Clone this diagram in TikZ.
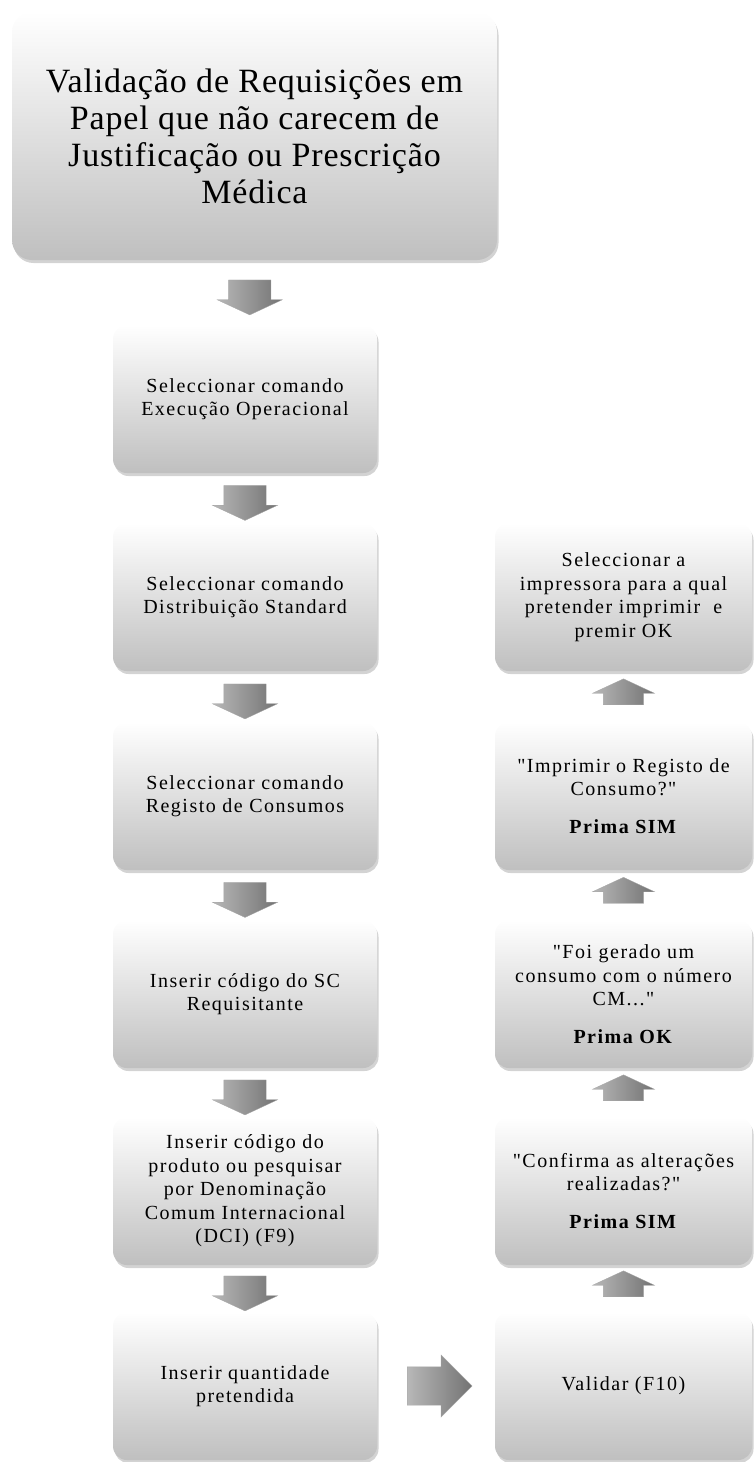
\documentclass[tikz,border=0pt]{standalone}
\usepackage{fontspec}
\setmainfont{Liberation Serif}
\newfontfamily\boxfont{Liberation Serif}[LetterSpace=7.5]
\newfontfamily\titlefont{Liberation Serif}[LetterSpace=2.5]
\usetikzlibrary{calc, shapes.arrows, shadows, positioning}

\tikzset{
  etapa/.style={rectangle, rounded corners=14pt, top color=white, middle color=black!4,
    bottom color=black!25,
    drop shadow={shadow xshift=1.5pt, shadow yshift=-3pt, opacity=0.35},
    align=center, inner sep=0pt, font=\boxfont\fontsize{20}{23.5}\selectfont},
  titulo/.style={etapa, rounded corners=20pt, minimum width=485pt, minimum height=248pt,
    font=\titlefont\fontsize{34}{37}\selectfont},
  esq/.style={etapa, minimum width=264pt, minimum height=148pt},
  dir/.style={etapa, minimum width=257pt, minimum height=148pt},
  seta/.style={single arrow, left color=black!28, right color=black!55,
    draw=black!35, line width=0.3pt},
  setabaixo/.style={seta, shape border rotate=270, inner xsep=21pt, inner ysep=0pt,
    minimum height=35pt, single arrow head extend=11.5pt, single arrow tip angle=130},
  setacima/.style={seta, shape border rotate=90, inner xsep=20pt, inner ysep=0pt,
    minimum height=26pt, single arrow head extend=11pt, single arrow tip angle=130},
  setadir/.style={seta, inner xsep=0pt, inner ysep=19pt, minimum height=65pt,
    single arrow head extend=12pt, single arrow tip angle=90},
}

\begin{document}
\begin{tikzpicture}[x=1pt, y=-1pt]
    \useasboundingbox (0,0) rectangle (754,1462);

    % Título
    \node[titulo] (tit) at (254.5,136) {Validação de Requisições em\\Papel que não carecem de\\Justificação ou Prescrição\\Médica};

    % Coluna da esquerda
    \node[esq] (c1) at (245,399) {Seleccionar comando\\Execução Operacional};
    \node[esq] (c2) at (245,597) {Seleccionar comando\\Distribuição Standard};
    \node[esq] (c3) at (245,796) {Seleccionar comando\\Registo de Consumos};
    \node[esq] (c4) at (245,994) {Inserir código do SC\\Requisitante};
    \node[esq] (c5) at (245,1191) {Inserir código do\\produto ou pesquisar\\por Denominação\\Comum Internacional\\(DCI) (F9)};
    \node[esq] (c6) at (245,1386) {Inserir quantidade\\pretendida};

    % Coluna da direita
    \node[dir] (d1) at (623.5,1386) {Validar (F10)};
    \node[dir] (d2) at (623.5,1191) {"Confirma as alterações\\realizadas?"\\[14pt]\textbf{Prima SIM}};
    \node[dir] (d3) at (623.5,994) {"Foi gerado um\\consumo com o número\\CM..."\\[14pt]\textbf{Prima OK}};
    \node[dir] (d4) at (623.5,796) {"Imprimir o Registo de\\Consumo?"\\[14pt]\textbf{Prima SIM}};
    \node[dir] (d5) at (623.5,597) {Seleccionar a\\impressora para a qual\\pretender imprimir~ e\\premir OK};

    % Setas para baixo
    \node[setabaixo] (s1) at ($(tit.south)!0.5!(c1.north)$) {};
    \node[setabaixo] (s2) at ($(c1.south)!0.5!(c2.north)$) {};
    \node[setabaixo] (s3) at ($(c2.south)!0.5!(c3.north)$) {};
    \node[setabaixo] (s4) at ($(c3.south)!0.5!(c4.north)$) {};
    \node[setabaixo] (s5) at ($(c4.south)!0.5!(c5.north)$) {};
    \node[setabaixo] (s6) at ($(c5.south)!0.5!(c6.north)$) {};

    % Seta para a direita
    \node[setadir] (s7) at ($(c6.east)!0.45!(d1.west)$) {};

    % Setas para cima
    \node[setacima] (s8) at ($(d1.north)!0.5!(d2.south)$) {};
    \node[setacima] (s9) at ($(d2.north)!0.5!(d3.south)$) {};
    \node[setacima] (s10) at ($(d3.north)!0.5!(d4.south)$) {};
    \node[setacima] (s11) at ($(d4.north)!0.5!(d5.south)$) {};

\end{tikzpicture}
\end{document}
